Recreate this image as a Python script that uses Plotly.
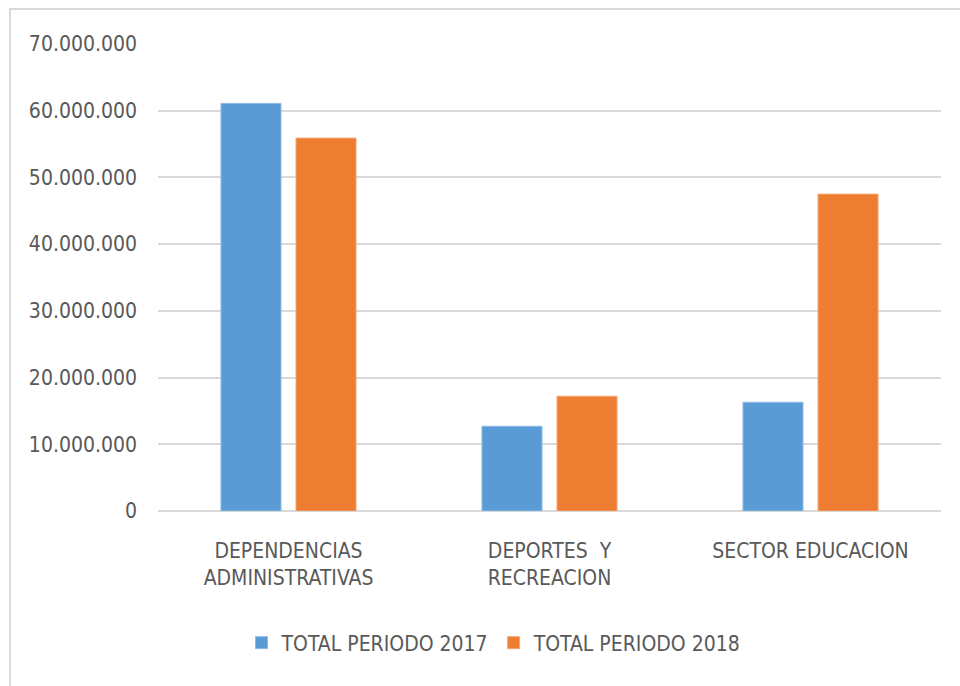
import plotly.graph_objects as go

categories = ["DEPENDENCIAS<br>ADMINISTRATIVAS", "DEPORTES  Y<br>RECREACION", "SECTOR EDUCACION"]
series_2017 = [61100000, 12700000, 16300000]
series_2018 = [55900000, 17200000, 47500000]
series_names = ["TOTAL PERIODO 2017", "TOTAL PERIODO 2018"]
y_ticks = [0, 10000000, 20000000, 30000000, 40000000, 50000000, 60000000, 70000000]

FONT = "Liberation Sans Narrow, DejaVu Sans Condensed, Arial Narrow, sans-serif"
GRAY = "#595959"
FS = 21

W, H = 960, 686
L, R, T, B = 158, 941, 44, 511

fig = go.Figure()
fig.add_trace(go.Bar(x=categories, y=series_2017, name=series_names[0],
                     marker=dict(color="#5B9BD5", line=dict(color="#8DBBE6", width=1))))
fig.add_trace(go.Bar(x=categories, y=series_2018, name=series_names[1],
                     marker=dict(color="#ED7D31", line=dict(color="#F4A772", width=1))))

def px(x):
    return (x - L) / (R - L)

def py(y):
    return (B - y) / (B - T)

fig.update_layout(
    width=W, height=H,
    margin=dict(l=L, r=W - R, t=T, b=H - B, pad=0),
    paper_bgcolor="white", plot_bgcolor="white",
    separators=",.",
    barmode="group", bargap=0.425, bargroupgap=0.2,
    font=dict(family=FONT, size=FS, color=GRAY),
    showlegend=True,
    legend=dict(orientation="h", x=px(494), xanchor="center", y=py(643), yanchor="middle",
                font=dict(family=FONT, size=FS, color=GRAY), itemwidth=30,
                traceorder="normal", bgcolor="rgba(0,0,0,0)"),
    xaxis=dict(showgrid=False, showline=False, ticks="", ticklabelstandoff=25,
               tickfont=dict(family=FONT, size=FS, color=GRAY)),
    yaxis=dict(range=[0, 70000000], tickvals=y_ticks, tickformat=",d",
               showgrid=True, gridcolor="#D9D9D9", gridwidth=1.5,
               zeroline=True, zerolinecolor="#D9D9D9", zerolinewidth=1.5,
               showline=False, ticks="", ticklabelstandoff=20,
               tickfont=dict(family=FONT, size=FS, color=GRAY)),
    shapes=[dict(type="rect", xref="paper", yref="paper",
                 x0=px(10), x1=px(975), y0=py(700), y1=py(9),
                 line=dict(color="#D9D9D9", width=2), layer="below")],
)

fig.write_html("out.html", config={"displayModeBar": False},
               post_script="document.body.style.margin='0';document.body.style.padding='0';")
